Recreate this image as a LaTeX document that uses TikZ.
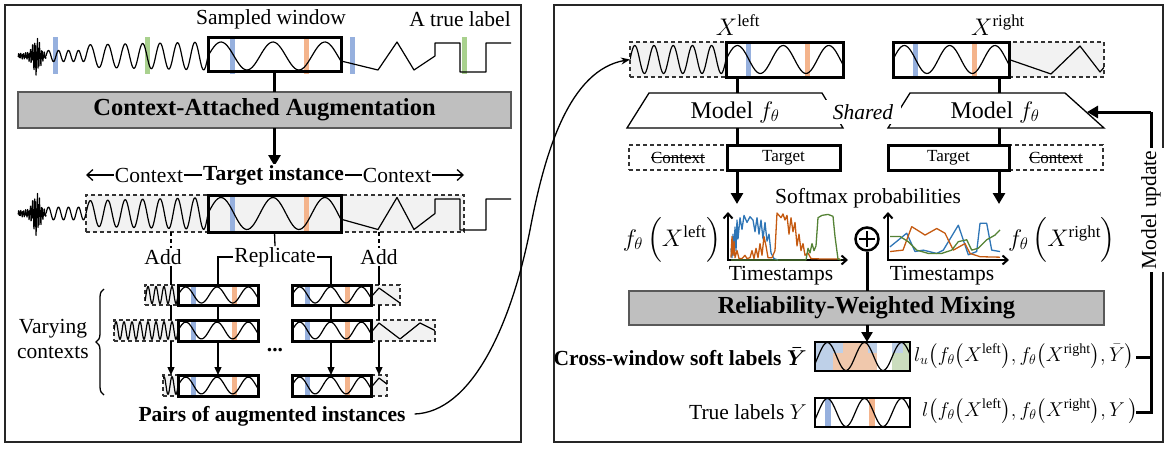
\RequirePackage{fix-cm}
\documentclass[tikz,border=0pt]{standalone}
\usepackage{amsmath}
\usepackage{fontspec}
\setmainfont{Liberation Serif}
\usetikzlibrary{arrows.meta,decorations.pathreplacing,calc,fit}

\definecolor{barblue}{RGB}{150,176,222}
\definecolor{barorange}{RGB}{244,180,140}
\definecolor{bargreen}{RGB}{169,209,142}
\definecolor{augfill}{RGB}{191,191,191}
\definecolor{ctxfill}{RGB}{242,242,242}
\definecolor{pblue}{RGB}{46,117,182}
\definecolor{porange}{RGB}{197,90,17}
\definecolor{pgreen}{RGB}{84,130,53}
\definecolor{softblue}{RGB}{190,208,232}
\definecolor{softorange}{RGB}{240,200,172}
\definecolor{softgreen}{RGB}{203,221,190}

\newcommand{\fs}{\fontsize{21.5}{25}\selectfont}
\newcommand{\fsB}{\fontsize{24.5}{28}\selectfont\bfseries}
\newcommand{\fsM}{\fontsize{24}{28}\selectfont}
\newcommand{\fsS}{\fontsize{17}{20}\selectfont}
\newcommand{\fsF}{\fontsize{20}{24}\selectfont}

% vertical label bar: [width]{x}{y0}{y1}{colour}
\newcommand{\VB}[5][5]{\fill[#5] ({#2-#1/2},{#3}) rectangle ({#2+#1/2},{#4});}
% window sine: x0 x1 yc amp phase
\newcommand{\WS}[5]{\draw[sig] plot[domain=#1:#2,samples=70,smooth] (\x,{#3-(#4)*sin(#5+921.6*((\x-(#1))/((#2)-(#1))))});}
% target box with bars and sine: name x0 y0 x1 y1
\newcommand{\TG}[5]{%
  \VB{#2+0.195*(#4-#2)}{#3}{#5}{barblue}
  \VB{#2+0.70*(#4-#2)}{#3}{#5}{barorange}
  \WS{#2}{#4}{(#3+#5)/2}{0.4*(#5-#3)}{0}
  \node[tbox, fit={(#2,#3) (#4,#5)}] (#1) {};}
% left context box (fast waves): name x0 y0 x1 y1
\newcommand{\LC}[5]{%
  \node[cbox, fit={(#2,#3) (#4,#5)}] (#1) {};
  \begin{scope}\clip (#2,#3) rectangle (#4,#5);
  \draw[sig] plot[domain=#2:#4,samples=120] (\x,{(#3+#5)/2-0.42*(#5-#3)*sin(45*(\x-#4))});
  \end{scope}}
% right context box (zigzag): name x0 y0 x1 y1
\newcommand{\RC}[5]{%
  \node[cbox, fit={(#2,#3) (#4,#5)}] (#1) {};
  \begin{scope}\clip (#2,#3) rectangle (#4,#5);
  \draw[sig] (#2,{(#3+#5)/2+2}) -- ({#2+8},{#3+3}) -- ({#2+29},{#5-2}) -- ({#2+49},{#3+3}) -- ({#2+64},{(#3+#5)/2});
  \end{scope}}
% full time series: yc amp squareTop squareBottom
\newcommand{\SIG}[4]{%
  \draw[sig] plot[domain=18:46,samples=100] (\x,{#1-1.5*#2*(0.15+0.85*exp(-(\x-36)*(\x-36)/25))*sin(531*(\x-18))*cos(377*(\x-18))});
  \draw[sig] plot[domain=46:86,samples=60,smooth] (\x,{#1-0.4*#2*sin(36*(\x-46))});
  \draw[sig] plot[domain=86:208,samples=200] (\x,{#1-#2*(0.8+0.2*(\x-86)/122)*sin(20.6557*(\x-208))});
  \WS{208}{341}{#1}{#2}{0}
  \draw[sig] (341,{#1+0.355*#2}) -- (378,{#1+#2}) -- (397,{#1-#2}) -- (414,{#1+#2}) -- (435,#1) -- (435,#3) -- (460,#3) -- (460,#4) -- (486,#4) -- (486,#3) -- (511,#3);}

\tikzset{
  every node/.style={font=\fs, inner sep=1pt},
  panel/.style={draw=black!85, line width=1.3},
  tbox/.style={draw=black, line width=3, inner sep=0, outer sep=0},
  cbox/.style={draw=black!80, dash pattern=on 4pt off 3pt, line width=1.3, fill=ctxfill, inner sep=0, outer sep=0},
  sig/.style={line width=1.2, black, line join=round},
  conn/.style={line width=3},
  tconn/.style={line width=1.3},
  gbox/.style={draw=black!65, line width=1.3, fill=augfill, inner sep=0, outer sep=0},
  bigtip/.style={-{Triangle[length=11pt,width=12pt]}},
  smalltip/.style={-{Triangle[length=8pt,width=7pt]}},
  axis/.style={line width=2, {Straight Barb[length=5pt,width=9pt]}-{Straight Barb[length=5pt,width=9pt]}},
  pline/.style={line width=1.3, line join=round},
}

\begin{document}
\begin{tikzpicture}[x=1pt,y=-1pt]
\useasboundingbox (0,0) rectangle (1170,450);

% panels
\draw[panel] (5,5) rectangle (521,442);
\draw[panel] (554,5) rectangle (1163,442);

% ================= LEFT PANEL =================
\node (sw) at (271,19) {Sampled window};
\node (atl) at (460,19) {A true label};

\VB{55}{37}{74}{barblue}
\VB{147.5}{37}{74}{bargreen}
\VB{232}{37}{74}{barblue}
\VB{306}{37}{74}{barorange}
\VB{352}{37}{74}{barblue}
\VB{464}{37}{74}{bargreen}
\SIG{56}{14}{43}{72}
\node[tbox, fit={(208,37) (341,71)}] (win) {};

\node[gbox, fit={(18,92) (511,128)}] (aug) {};
\node[font=\fsB] (augt) at (aug) {Context-Attached Augmentation};
\draw[conn] (win.south) -- (win.south |- aug.north);
\coordinate (ctop) at (274.5,166);
\draw[conn, bigtip] (aug.south -| win.south) -- (ctop);

% context line
\coordinate (cL) at (86,175);
\coordinate (cR) at (464,175);
\draw[tconn, {Straight Barb[length=6pt,width=11pt]}-{Straight Barb[length=6pt,width=11pt]}] (cL) -- (cR);
\node[fill=white] (c1) at (149,175) {Context};
\node[fill=white, font=\fs\bfseries] (ti) at (273.5,175) {Target instance};
\node[fill=white] (c2) at (397,175) {Context};

% middle series
\node[cbox, fit={(86,195) (464,232)}] (ctx) {};
\VB{232}{195}{232}{barblue}
\VB{306}{195}{232}{barorange}
\SIG{213.5}{16}{199}{230}
\node[tbox, fit={(208,195) (341,232)}] (tgt) {};

% add / replicate
\coordinate (xA) at (171,0);
\coordinate (xB) at (218,0);
\coordinate (xC) at (331,0);
\coordinate (xD) at (379,0);
\node (addL) at (163,257) {Add};
\node (addR) at (379,257) {Add};
\node (rep) at (275,257) {Replicate};

% rows of augmented instances
\LC{r1lc}{145}{285}{178}{305}
\RC{r1rc}{371}{285}{400}{305}
\TG{r1lt}{178}{285}{258}{305}
\TG{r1rt}{292}{285}{371}{305}
\LC{r2lc}{114}{320}{178}{341}
\RC{r2rc}{371}{320}{435}{341}
\TG{r2lt}{178}{320}{258}{341}
\TG{r2rt}{292}{320}{371}{341}
\LC{r3lc}{163}{375}{178}{396}
\RC{r3rc}{371}{375}{387}{396}
\TG{r3lt}{178}{375}{258}{396}
\TG{r3rt}{292}{375}{371}{396}

\draw[tconn, dash pattern=on 4pt off 3pt] (ctx.south -| xA) -- (addL.north -| xA);
\draw[tconn, dash pattern=on 4pt off 3pt] (ctx.south -| xD) -- (addR.north -| xD);
\draw[tconn] (addL.south -| xA) -- (r1lc.north -| xA);
\draw[tconn] (addR.south -| xD) -- (r1rc.north -| xD);
\draw[tconn] (tgt.south) -- (rep.north);
\draw[tconn] (rep.west) -| (r1lt.north -| xB);
\draw[tconn] (rep.east) -| (r1rt.north -| xC);

\draw[tconn] (r1lc.south -| xA) -- (r2lc.north -| xA);
\draw[tconn, smalltip] (r2lc.south -| xA) -- (r3lc.north -| xA);
\draw[tconn] (r1lt.south -| xB) -- (r2lt.north -| xB);
\draw[tconn, smalltip] (r2lt.south -| xB) -- (r3lt.north -| xB);
\draw[tconn] (r1rt.south -| xC) -- (r2rt.north -| xC);
\draw[tconn, smalltip] (r2rt.south -| xC) -- (r3rt.north -| xC);
\draw[tconn] (r1rc.south -| xD) -- (r2rc.north -| xD);
\draw[tconn, smalltip] (r2rc.south -| xD) -- (r3rc.north -| xD);

\node[font=\fs\bfseries] (dots) at (275,350) {...};

\draw[tconn, decorate, decoration={brace, amplitude=8pt}] (104,395) -- (104,289);
\node[align=center] (vc) at (53,339) {Varying\\contexts};

\node[font=\fs\bfseries] (pairs) at (272,416) {Pairs of augmented instances};

% ================= RIGHT PANEL =================
\node[font=\fsM] (xl) at (738,25) {$X^{\mathrm{left}}$};
\node[font=\fsM] (xr) at (998,25) {$X^{\mathrm{right}}$};

\node[cbox, fit={(630,42) (726,77)}] (xlc) {};
\begin{scope}
  \clip (630,42) rectangle (726,77);
  \draw[sig] plot[domain=630:726,samples=150] (\x,{59.5-14*sin(18.75*(\x-726))});
\end{scope}
\TG{xlt}{726}{42}{843}{77}

\node[cbox, fit={(1009,42) (1104,77)}] (xrc) {};
\begin{scope}
  \clip (1009,42) rectangle (1104,77);
  \draw[sig] (1009,59.5) -- (1051,74) -- (1080,46) -- (1100,72) -- (1112,58);
\end{scope}
\TG{xrt}{893}{42}{1009}{77}

% curve from left panel
\draw[tconn, -{Stealth[length=9pt,width=7pt]}] ($(pairs.east)+(8,-2)$) .. controls (470,412) and (510,330) .. (530,230) .. controls (545,150) and (570,70) .. (xlc.west);

% models
\draw[tconn] (649,93) -- (822,93) -- (843,128) -- (627,128) -- cycle;
\draw[tconn] (910,93) -- (1065,93) -- (1104,128) -- (888,128) -- cycle;
\node[font=\fsM] (ml) at (735,112) {Model $f_\theta$};
\node[font=\fsM] (mr) at (995,112) {Model $f_\theta$};
\node[fill=white, inner xsep=8pt, inner ysep=4pt, font=\fs\itshape] (sh) at (863,112) {Shared};

\coordinate (cl) at (737,0);
\coordinate (cr) at (999,0);
\coordinate (tlt) at (737,93);
\coordinate (tlb) at (737,128);
\coordinate (trt) at (999,93);
\coordinate (trb) at (999,128);

% context / target row
\node[cbox, fill=white, fit={(629,145) (727,170)}] (lctx) {};
\node[font=\fsS, inner sep=0] (lctxt) at (lctx) {Context};
\draw[line width=1] (lctxt.west) -- (lctxt.east);
\node[tbox, fit={(727,145) (840,170)}] (ltgt) {};
\node[font=\fsS] (ltgtt) at (ltgt) {Target};
\node[cbox, fill=white, fit={(1009,145) (1103,170)}] (rctx) {};
\node[font=\fsS, inner sep=0] (rctxt) at (rctx) {Context};
\draw[line width=1] (rctxt.west) -- (rctxt.east);
\node[tbox, fit={(888,145) (1009,170)}] (rtgt) {};
\node[font=\fsS] (rtgtt) at (rtgt) {Target};

\draw[conn] (xlt.south -| cl) -- (tlt);
\draw[conn] (tlb) -- (ltgt.north -| cl);
\draw[conn] (xrt.south -| cr) -- (trt);
\draw[conn] (trb) -- (rtgt.north -| cr);
\coordinate (arrL) at (737,204);
\coordinate (arrR) at (999,204);
\draw[conn, bigtip] (ltgt.south -| cl) -- (arrL);
\draw[conn, bigtip] (rtgt.south -| cr) -- (arrR);

\node (smx) at (868,198) {Softmax probabilities};

% plots
\draw[axis] (728,212) -- (728,260) -- (848,260);
\draw[axis] (888,212) -- (888,260) -- (1009,260);
\begin{scope}[shift={(728,260)}, y={(0pt,47pt)}]
  \draw[pline, pblue] plot coordinates {(3,0.25) (4,0.05) (5,0.55) (6,0.1) (7,0.7) (8,0.2) (9,0.85) (10,0.45) (12,0.9) (14,0.65) (16,0.95) (19,0.8) (22,0.92) (25,0.85) (27,0.6) (29,0.9) (31,0.55) (33,0.85) (35,0.45) (37,0.8) (39,0.4) (41,0.55) (43,0.15) (46,0.03) (50,0.0)};
  \draw[pline, porange] plot coordinates {(3,0.05) (4,0.5) (5,0.1) (6,0.4) (7,0.05) (9,0.2) (11,0.03) (14,0.03) (17,0.1) (19,0.03) (22,0.05) (24,0.2) (26,0.03) (28,0.25) (30,0.05) (32,0.35) (34,0.1) (36,0.5) (38,0.3) (40,0.05) (44,0.05) (47,0.2) (49,1.0) (51,0.95) (53,0.9) (55,0.98) (57,0.85) (59,0.95) (61,0.55) (63,0.9) (65,0.6) (67,0.8) (69,0.3) (71,0.55) (73,0.2) (75,0.35) (77,0.1) (80,0.15) (83,0.03) (95,0.02) (112,0.02)};
  \draw[pline, pgreen] plot coordinates {(3,0.0) (78,0.0) (80,0.25) (82,0.15) (84,0.35) (86,0.2) (88,0.3) (90,0.9) (94,0.95) (100,0.97) (105,0.93) (107,0.5) (110,0.02) (113,0.0)};
\end{scope}
\begin{scope}[shift={(888,260)}, y={(0pt,47pt)}]
  \draw[pline, pblue] plot coordinates {(2,0.28) (18.7,0.57) (27,0.18) (35.3,0.21) (48.7,0.14) (55.3,0.21) (70.3,0.74) (80.3,0.11) (88.7,0.18) (92,0.78) (98.7,0.78) (103.7,0.21) (112,0.18)};
  \draw[pline, porange] plot coordinates {(2,0.18) (15,0.21) (23.7,0.71) (32,0.6) (37,0.53) (48.7,0.67) (57,0.57) (65.3,0.21) (77,0.35) (82,0.14) (92,0.07) (112,0.06)};
  \draw[pline, pgreen] plot coordinates {(2,0.5) (12,0.5) (20.3,0.39) (28.7,0.21) (40.3,0.14) (53.7,0.14) (63.7,0.21) (70.3,0.39) (78.7,0.43) (83.7,0.21) (90.3,0.25) (98.7,0.43) (107,0.53) (112,0.64)};
\end{scope}
\node[font=\fsM] (fl) at (672,240) {$f_\theta\,\Bigl(X^{\mathrm{left}}\Bigr)$};
\node[font=\fsM] (fr) at (1062,240) {$f_\theta\,\Bigl(X^{\mathrm{right}}\Bigr)$};
\node (ts1) at (781,276) {Timestamps};
\node (ts2) at (942,276) {Timestamps};

\node[circle, draw, line width=2.5, minimum size=23pt, inner sep=0] (op) at (867,239) {};
\draw[line width=2] ($(op.center)+(-8,0)$) -- ($(op.center)+(8,0)$);
\draw[line width=2] ($(op.center)+(0,-8)$) -- ($(op.center)+(0,8)$);

\node[gbox, fit={(629,291) (1104,325)}] (rwm) {};
\node[font=\fsB] (rwmt) at (rwm) {Reliability-Weighted Mixing};
\draw[conn] (op.south) -- (rwm.north -| op);

% soft labels box
\fill[softblue] (816,342) rectangle (833,371);
\fill[softblue] (833,342) rectangle (843,353);
\fill[softorange] (833,353) rectangle (843,371);
\fill[softorange] (843,342) rectangle (868,371);
\fill[softblue] (868,342) rectangle (877,353);
\fill[softorange] (868,353) rectangle (877,371);
\fill[softblue] (892,342) rectangle (903,353);
\fill[softgreen] (892,353) rectangle (903,371);
\fill[softgreen] (903,342) rectangle (910,371);
\WS{815}{910}{356.5}{14}{-30}
\node[draw, line width=1.3, fit={(815,342) (910,371)}, inner sep=0, outer sep=0] (soft) {};
\draw[conn, -{Triangle[length=10pt,width=11pt]}] (rwm.south -| op) -- (soft.north -| op);

% true labels box
\VB[6]{828}{398}{427}{barblue}
\VB[6]{872}{398}{427}{barorange}
\WS{815}{910}{412.5}{14}{-30}
\node[draw, line width=1.3, fit={(815,398) (910,427)}, inner sep=0, outer sep=0] (truebox) {};

\node[anchor=east, font=\fs\bfseries, inner sep=0] (cwl) at (807,357) {Cross-window soft labels {\boldmath$\bar{Y}$}};
\node[anchor=east, inner sep=0] (tll) at (807,412) {True labels $Y$};
\node[anchor=west, font=\fsF, inner sep=0] (lu) at (914,356) {$l_u\bigl(f_\theta\bigl(X^{\mathrm{left}}\bigr),f_\theta\bigl(X^{\mathrm{right}}\bigr),\bar{Y}\bigr)$};
\node[anchor=west, font=\fsF, inner sep=0] (lt) at (922,411) {$l\bigl(f_\theta\bigl(X^{\mathrm{left}}\bigr),f_\theta\bigl(X^{\mathrm{right}}\bigr),Y\,\bigr)$};

% model update
\coordinate (mu) at (1151,112);
\coordinate (m1) at (1151,357);
\coordinate (m2) at (1151,412);
\coordinate (s1) at (1136,357);
\coordinate (s2) at (1136,412);
\coordinate (mtip) at (1087,112);
\draw[conn] (s1) -- (m1);
\draw[conn] (s2) -- (m2) -- (mu);
\draw[conn, bigtip] (mu) -- (mtip);
\node[rotate=90, fill=white, inner sep=3pt] (mut) at (1151,210) {Model update};

\end{tikzpicture}
\end{document}
